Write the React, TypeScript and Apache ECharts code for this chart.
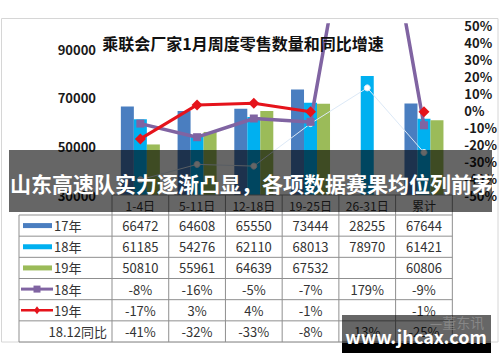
import React, { useEffect, useRef } from "react";
import * as echarts from "echarts";

const categories = ["1-4日", "5-11日", "12-18日", "19-25日", "26-31日", "累计"];
const sales17 = [66472, 64608, 65550, 73444, 28255, 67644];
const sales18 = [61185, 54276, 62110, 68013, 78970, 61421];
const sales19: (number | null)[] = [50810, 55961, 64639, 67532, null, 60806];
const growth18 = [-8, -16, -5, -7, 179, -9];
const growth19: (number | null)[] = [-17, 3, 4, -1, null, -1];
const growthVsDec = [-41, -32, -33, -8, 13, -25];

const title = "乘联会厂家1月周度零售数量和同比增速";
const banner = "山东高速队实力逐渐凸显，各项数据赛果均位列前茅";
const watermark = "www.jhcax.com";
const watermarkFaint = "—董东讯";

const C17 = "#4A7EC0";
const C18 = "#00B0F0";
const C19 = "#9BBB59";
const CPUR = "#8064A2";
const CRED = "#E5131B";
const CLIGHT = "#dce9f7";

const FONT = '"Noto Sans CJK SC", "Noto Sans", sans-serif';

export default function App() {
  const ref = useRef<HTMLDivElement>(null);
  useEffect(() => {
    const chart = echarts.init(ref.current!, null, { renderer: "svg" });
    const option: any = {
      animation: false,
      backgroundColor: "#ffffff",
      grid: { left: 112, right: 46, top: 25, bottom: 167 },
      xAxis: {
        type: "category",
        data: categories,
        axisLine: { show: false },
        axisTick: { show: false },
        axisLabel: { show: false },
      },
      yAxis: [
        {
          type: "value",
          min: 30000,
          max: 100000,
          interval: 20000,
          splitLine: { show: false },
          axisLine: { show: false },
          axisTick: { show: false },
          axisLabel: {
            margin: 16,
            color: "#1a1a1a",
            fontWeight: "bold",
            fontSize: 13,
            fontFamily: FONT,
            formatter: (v: number) => ((v - 30000) % 20000 === 0 && v < 100000 ? String(v) : ""),
          },
        },
        {
          type: "value",
          min: -50,
          max: 50,
          interval: 10,
          splitLine: { show: false },
          axisLine: { show: false },
          axisTick: { show: false },
          axisLabel: {
            margin: 12,
            color: "#1a1a1a",
            fontWeight: "bold",
            fontSize: 13,
            fontFamily: FONT,
            formatter: "{value}%",
          },
        },
      ],
      series: [
        { name: "17年", type: "bar", data: sales17, barWidth: 13, barGap: "0%", itemStyle: { color: C17 }, clip: true },
        { name: "18年", type: "bar", data: sales18, barWidth: 13, barGap: "0%", itemStyle: { color: C18 }, clip: true },
        { name: "19年", type: "bar", data: sales19, barWidth: 13, barGap: "0%", itemStyle: { color: C19 }, clip: true },
        {
          name: "18.12同比",
          type: "line",
          yAxisIndex: 1,
          data: growthVsDec,
          symbol: "circle",
          symbolSize: 6,
          lineStyle: { color: CLIGHT, width: 1 },
          itemStyle: { color: "#ffffff", borderColor: CLIGHT, borderWidth: 1 },
          clip: true,
          z: 3,
        },
        {
          name: "18年同比",
          type: "line",
          yAxisIndex: 1,
          data: growth18,
          symbol: "rect",
          symbolSize: 8,
          lineStyle: { color: CPUR, width: 3.5 },
          itemStyle: { color: CPUR },
          clip: true,
          z: 4,
        },
        {
          name: "19年同比",
          type: "line",
          yAxisIndex: 1,
          data: growth19,
          symbol: "diamond",
          symbolSize: 11,
          lineStyle: { color: CRED, width: 3 },
          itemStyle: { color: CRED },
          clip: true,
          z: 5,
        },
      ],
    };
    chart.setOption(option);

    const xs = categories.map((c) => chart.convertToPixel({ xAxisIndex: 0 }, c) as number);
    const colW = xs.length > 1 ? xs[1] - xs[0] : 57;
    const tLeft = xs[0] - colW / 2;
    const tRight = xs[xs.length - 1] + colW / 2;
    const headTop = 195;
    const rowTop = 215;
    const rowH = 21.17;
    const legLeft = 19;
    const lineColor = "#8f8f8f";

    const pct = (v: number | null) => (v === null ? "" : v + "%");
    const num = (v: number | null) => (v === null ? "" : String(v));
    const rows = [
      { label: "17年", kind: "bar", color: C17, cells: sales17.map(num) },
      { label: "18年", kind: "bar", color: C18, cells: sales18.map(num) },
      { label: "19年", kind: "bar", color: C19, cells: sales19.map(num) },
      { label: "18年", kind: "square", color: CPUR, cells: growth18.map(pct) },
      { label: "19年", kind: "diamond", color: CRED, cells: growth19.map(pct) },
      { label: "18.12同比", kind: "none", color: "", cells: growthVsDec.map(pct) },
    ];

    const g: any[] = [];
    // frame
    g.push({ type: "rect", shape: { x: 1.5, y: 18.5, width: 496.5, height: 323.5 }, style: { fill: "none", stroke: "#d6d6d6", lineWidth: 1 }, z: 1 });
    g.push({
      type: "text",
      style: { text: title, x: 243, y: 43, fill: "#111", font: `bold 16px ${FONT}`, align: "center", verticalAlign: "middle", textAlign: "center", textVerticalAlign: "middle" },
      z: 10,
    });
    // table lines
    const tb = rowTop + rowH * rows.length;
    g.push({ type: "line", shape: { x1: tLeft, y1: headTop, x2: tRight, y2: headTop }, style: { stroke: lineColor, lineWidth: 1 }, z: 10 });
    for (let r = 0; r <= rows.length; r++) {
      const y = rowTop + rowH * r;
      g.push({ type: "line", shape: { x1: legLeft, y1: y, x2: tRight, y2: y }, style: { stroke: lineColor, lineWidth: 1 }, z: 10 });
    }
    g.push({ type: "line", shape: { x1: legLeft, y1: rowTop, x2: legLeft, y2: tb }, style: { stroke: lineColor, lineWidth: 1 }, z: 10 });
    for (let i = 0; i <= xs.length; i++) {
      const x = tLeft + colW * i;
      g.push({ type: "line", shape: { x1: x, y1: headTop, x2: x, y2: tb }, style: { stroke: lineColor, lineWidth: 1 }, z: 10 });
    }
    // header
    categories.forEach((c, i) => {
      g.push({
        type: "text",
        style: { text: c, x: xs[i], y: (headTop + rowTop) / 2 + 0.5, fill: "#333", font: `12px ${FONT}`, align: "center", verticalAlign: "middle", textAlign: "center", textVerticalAlign: "middle" },
        z: 11,
      });
    });
    rows.forEach((row, r) => {
      const cy = rowTop + rowH * (r + 0.5);
      if (row.kind === "bar") {
        g.push({ type: "rect", shape: { x: 23, y: cy - 2.5, width: 29, height: 5 }, style: { fill: row.color }, z: 11 });
      } else if (row.kind === "square") {
        g.push({ type: "line", shape: { x1: 21, y1: cy, x2: 53, y2: cy }, style: { stroke: row.color, lineWidth: 3 }, z: 11 });
        g.push({ type: "rect", shape: { x: 33.5, y: cy - 3.5, width: 7, height: 7 }, style: { fill: row.color }, z: 12 });
      } else if (row.kind === "diamond") {
        g.push({ type: "line", shape: { x1: 21, y1: cy, x2: 53, y2: cy }, style: { stroke: row.color, lineWidth: 2.5 }, z: 11 });
        g.push({ type: "polygon", shape: { points: [[37, cy - 4], [40, cy], [37, cy + 4], [34, cy]] }, style: { fill: row.color }, z: 12 });
      }
      if (row.kind === "none") {
        g.push({
          type: "text",
          style: { text: row.label, x: 107, y: cy, fill: "#333", font: `13px ${FONT}`, align: "right", verticalAlign: "middle", textAlign: "right", textVerticalAlign: "middle" },
          z: 11,
        });
      } else {
        g.push({
          type: "text",
          style: { text: row.label, x: 54, y: cy, fill: "#333", font: `13px ${FONT}`, align: "left", verticalAlign: "middle", textAlign: "left", textVerticalAlign: "middle" },
          z: 11,
        });
      }
      row.cells.forEach((t, i) => {
        if (!t) return;
        g.push({
          type: "text",
          style: { text: t, x: xs[i], y: cy, fill: "#333", font: `13px ${FONT}`, align: "center", verticalAlign: "middle", textAlign: "center", textVerticalAlign: "middle" },
          z: 11,
        });
      });
    });
    // banner overlay
    g.push({ type: "rect", shape: { x: 9, y: 150, width: 483, height: 62 }, style: { fill: "rgba(0,0,0,0.6)" }, z: 50 });
    g.push({
      type: "text",
      style: { text: banner, x: 10, y: 183, fill: "#ffffff", font: `bold 21px ${FONT}`, align: "left", verticalAlign: "middle", textAlign: "left", textVerticalAlign: "middle" },
      z: 51,
    });
    // watermark
    g.push({ type: "rect", shape: { x: 342, y: 315, width: 149, height: 28 }, style: { fill: "rgba(0,0,0,0.6)" }, z: 50 });
    g.push({ type: "rect", shape: { x: 342, y: 343, width: 149, height: 10 }, style: { fill: "#000000" }, z: 50 });
    g.push({
      type: "text",
      style: { text: watermarkFaint, x: 457, y: 322, fill: "rgba(150,150,150,0.7)", font: `14px ${FONT}`, align: "center", verticalAlign: "middle", textAlign: "center", textVerticalAlign: "middle" },
      z: 51,
    });
    g.push({
      type: "text",
      style: { text: watermark, x: 416, y: 336, fill: "#ffffff", font: `bold 18px ${FONT}`, align: "center", verticalAlign: "middle", textAlign: "center", textVerticalAlign: "middle" },
      z: 52,
    });

    chart.setOption({ graphic: { elements: g } });
    return () => chart.dispose();
  }, []);
  return <div ref={ref} style={{ position: "fixed", left: 0, top: 0, width: 500, height: 362 }} />;
}
